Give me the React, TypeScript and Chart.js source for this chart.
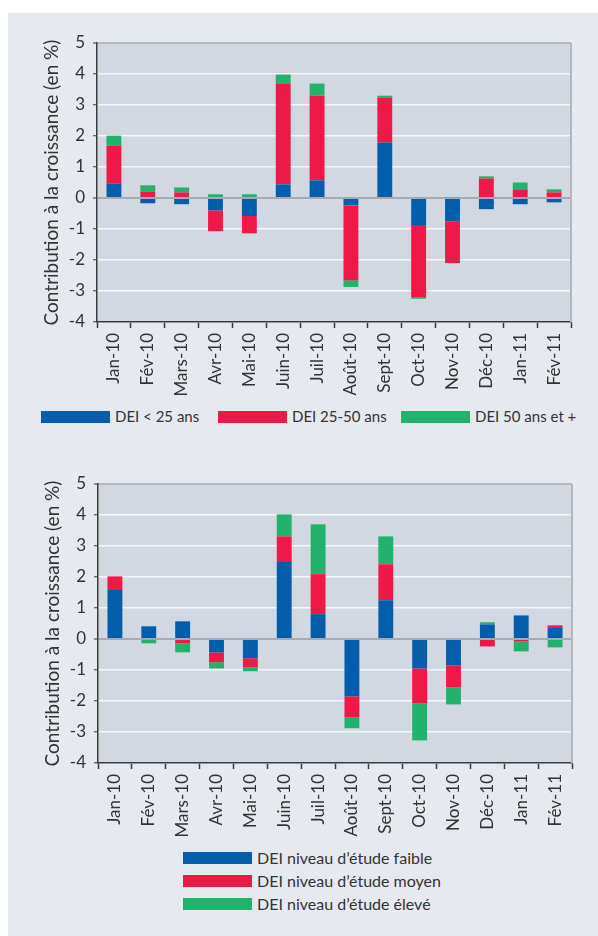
import React, { useEffect, useRef } from "react";
import { Chart, registerables } from "chart.js";

Chart.register(...registerables);

// ---------- data ----------
const categories = [
  "Jan-10", "Fév-10", "Mars-10", "Avr-10", "Mai-10", "Juin-10", "Juil-10",
  "Août-10", "Sept-10", "Oct-10", "Nov-10", "Déc-10", "Jan-11", "Fév-11",
];

const Y_MIN = -4;
const Y_MAX = 5;
const Y_STEP = 1;

const yTitle = "Contribution à la croissance (en %)";

// Chart 1 : by age
const ageLabels = ["DEI < 25 ans", "DEI 25-50 ans", "DEI 50 ans et +"];
const ageUnder25 = [0.46, -0.17, -0.2, -0.4, -0.58, 0.44, 0.57, -0.24, 1.79, -0.9, -0.75, -0.36, -0.2, -0.14];
const age25to50 = [1.23, 0.21, 0.18, -0.67, -0.56, 3.25, 2.73, -2.41, 1.45, -2.29, -1.35, 0.63, 0.28, 0.18];
const age50plus = [0.32, 0.2, 0.16, 0.12, 0.12, 0.29, 0.39, -0.22, 0.06, -0.06, 0.02, 0.07, 0.22, 0.1];

// Chart 2 : by education level
const eduLabels = [
  "DEI niveau d’étude faible",
  "DEI niveau d’étude moyen",
  "DEI niveau d’étude élevé",
];
const eduLow = [1.58, 0.41, 0.57, -0.43, -0.62, 2.48, 0.8, -1.85, 1.25, -0.95, -0.85, 0.47, 0.76, 0.38];
const eduMid = [0.44, -0.03, -0.14, -0.32, -0.29, 0.83, 1.29, -0.68, 1.16, -1.13, -0.71, -0.24, -0.08, 0.06];
const eduHigh = [0, -0.11, -0.29, -0.2, -0.13, 0.71, 1.61, -0.35, 0.9, -1.19, -0.55, 0.07, -0.32, -0.27];

// ---------- styles ----------
const COLORS = ["#005ead", "#ee1947", "#21b36b"];
const PANEL_BG = "#e6e9f0";
const PLOT_BG = "#d2d8e1";
const GRID = "#f4f6f9";
const ZERO = "#a7aaaf";
const BORDER_LIGHT = "#b3b6bb";
const AXIS = "#3a3a3a";
const TEXT = "#333333";
const FONT = "Lato, 'Open Sans', sans-serif";

const plotPlugin = {
  id: "plotFrame",
  beforeDraw(chart: any) {
    const { ctx, chartArea: a } = chart;
    ctx.save();
    ctx.fillStyle = PLOT_BG;
    ctx.fillRect(a.left, a.top, a.right - a.left, a.bottom - a.top);
    ctx.restore();
  },
  afterDraw(chart: any) {
    const { ctx, chartArea: a } = chart;
    ctx.save();
    ctx.strokeStyle = BORDER_LIGHT;
    ctx.lineWidth = 2;
    ctx.beginPath();
    ctx.moveTo(a.right, a.top);
    ctx.lineTo(a.right, a.bottom);
    ctx.stroke();
    ctx.restore();
  },
};

function makeConfig(labels: string[], series: number[][]): any {
  return {
    type: "bar",
    data: {
      labels: categories,
      datasets: series.map((d, i) => ({
        label: labels[i],
        data: d,
        backgroundColor: COLORS[i],
        borderWidth: 0,
        categoryPercentage: 1,
        barPercentage: 0.44,
      })),
    },
    plugins: [plotPlugin],
    options: {
      responsive: false,
      animation: false,
      layout: { padding: { top: 43, right: 27, left: 0, bottom: 0 } },
      plugins: {
        legend: { display: false },
        tooltip: { enabled: false },
      },
      scales: {
        x: {
          stacked: true,
          grid: {
            offset: true,
            drawOnChartArea: false,
            tickColor: AXIS,
            tickLength: 6,
            tickWidth: 1.5,
          },
          border: { display: true, color: AXIS, width: 1.5 },
          ticks: {
            autoSkip: false,
            minRotation: 90,
            maxRotation: 90,
            padding: 5,
            color: TEXT,
            font: { family: FONT, size: 17 },
          },
          afterFit: (s: any) => {
            s.height = 78;
          },
        },
        y: {
          stacked: true,
          min: Y_MIN,
          max: Y_MAX,
          ticks: {
            stepSize: Y_STEP,
            padding: 8,
            color: TEXT,
            font: { family: FONT, size: 17 },
          },
          grid: {
            color: (c: any) =>
              c.tick && c.tick.value === 0
                ? ZERO
                : c.tick && c.tick.value === Y_MAX
                ? BORDER_LIGHT
                : GRID,
            lineWidth: (c: any) => (c.tick && (c.tick.value === 0 || c.tick.value === Y_MAX) ? 2 : 1.5),
            tickColor: AXIS,
            tickLength: 4,
            tickWidth: 1,
          },
          border: { display: true, color: AXIS, width: 1.5 },
          title: {
            display: true,
            text: yTitle,
            color: TEXT,
            font: { family: FONT, size: 19, weight: "normal" },
            padding: { top: 40, bottom: 0 },
          },
          afterFit: (s: any) => {
            s.width = 97;
          },
        },
      },
    },
  };
}

function BarChart({ labels, series, top, left }: { labels: string[]; series: number[][]; top: number; left: number }) {
  const ref = useRef<HTMLCanvasElement | null>(null);
  useEffect(() => {
    if (!ref.current) return;
    const chart = new Chart(ref.current, makeConfig(labels, series));
    return () => chart.destroy();
  }, []);
  return (
    <canvas
      ref={ref}
      width={598}
      height={400}
      style={{ position: "absolute", top, left, width: 598, height: 400 }}
    />
  );
}

function LegendItem({ color, text, size }: { color: string; text: string; size: number }) {
  return (
    <div style={{ display: "flex", alignItems: "center", height: 23 }}>
      <div style={{ width: 69, height: 12, background: color, marginRight: 5, flex: "none" }} />
      <span style={{ fontFamily: FONT, fontSize: size, color: TEXT, whiteSpace: "nowrap", lineHeight: "23px" }}>
        {text}
      </span>
    </div>
  );
}

const legend1Lefts = [41, 218, 401];

export default function App() {
  return (
    <div style={{ position: "absolute", top: 0, left: 0, width: 598, height: 936, background: "#ffffff", overflow: "hidden" }}>
      <div style={{ position: "absolute", top: 13, left: 8, right: 0, bottom: 0, background: PANEL_BG }} />
      <BarChart labels={ageLabels} series={[ageUnder25, age25to50, age50plus]} top={0} left={0} />
      {ageLabels.map((t, i) => (
        <div key={t} style={{ position: "absolute", top: 405, left: legend1Lefts[i] }}>
          <LegendItem color={COLORS[i]} text={t} size={15} />
        </div>
      ))}
      <BarChart labels={eduLabels} series={[eduLow, eduMid, eduHigh]} top={441} left={1} />
      <div style={{ position: "absolute", top: 846, left: 183, display: "flex", flexDirection: "column" }}>
        {eduLabels.map((t, i) => (
          <LegendItem key={t} color={COLORS[i]} text={t} size={16} />
        ))}
      </div>
    </div>
  );
}
